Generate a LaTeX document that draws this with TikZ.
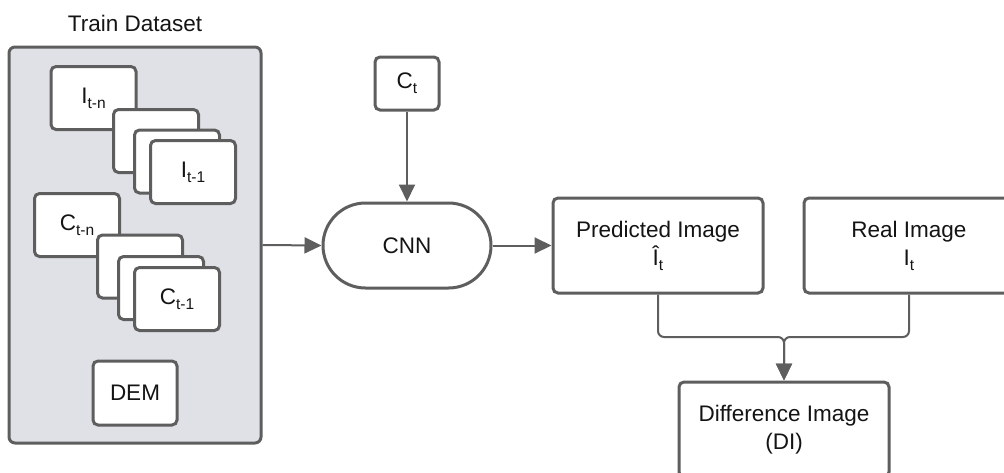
\documentclass[tikz,border=0pt]{standalone}
\usepackage{fontspec}
\setmainfont{Liberation Sans}
\usetikzlibrary{arrows.meta,shapes.misc}

\definecolor{edge}{RGB}{94,94,94}
\definecolor{panel}{RGB}{223,225,230}
\definecolor{ink}{RGB}{20,20,20}

% lowered, smaller index text
\newcommand\idx[1]{\raisebox{-5pt}{\fontsize{15.5}{15.5}\selectfont #1}}

\begin{document}
\begin{tikzpicture}[x=1pt,y=-1pt,
  every node/.style={font=\fontsize{22.5}{28}\selectfont, text=ink},
  card/.style={draw=edge, fill=white, line width=3pt, rounded corners=5pt,
               inner sep=0pt, align=center, minimum width=85pt, minimum height=63pt},
  wire/.style={draw=edge, line width=2pt},
  flow/.style={wire, -{Triangle[length=17pt,width=16pt]}},
]
\useasboundingbox (0,0) rectangle (1004,472);
\clip (0,0) rectangle (1004,472);

% training data panel
\node[anchor=base] (title) at (135,31) {Train Dataset};
\node[draw=edge, fill=panel, line width=3pt, rounded corners=6pt,
      minimum width=252pt, minimum height=396pt] (train) at (135,245) {};

% stack of past images
\node[card] (in) at (93.5,98) {I\idx{t-n}};
\node[card] (i2) at (156,141) {};
\node[card] (i3) at (177,161.5) {};
\node[card] (i1) at (193,172) {I\idx{t-1}};

% stack of past conditions
\node[card] (cn) at (77,225) {C\idx{t-n}};
\node[card] (c2) at (140,266.5) {};
\node[card] (c3) at (161,288) {};
\node[card] (c1) at (177,299) {C\idx{t-1}};

% elevation model
\node[card, minimum height=64pt, minimum width=84pt] (dem) at (135,393) {DEM};

% current condition and network
\node[card, minimum width=64pt, minimum height=53pt] (ct) at (407,83.5) {C\idx{t}};
\node[draw=edge, fill=white, line width=3pt, rounded rectangle,
      minimum width=168pt, minimum height=85pt, inner sep=0pt] (cnn) at (407,245.5) {CNN};

% outputs
\node[card, minimum width=210pt, minimum height=95pt] (pred) at (658,245.5)
  {Predicted Image\\Î\idx{t}};
\node[card, minimum width=210pt, minimum height=95pt] (real) at (909,245.5)
  {Real Image\\I\idx{t}};
\node[card, minimum width=210pt, minimum height=95pt] (di) at (784,429.5)
  {Difference Image\\(DI)};

% connectors
\coordinate (j) at (784,337);
\draw[flow] (train.east) -- (cnn.west);
\draw[flow] (ct.south) -- (cnn.north);
\draw[flow] (cnn.east) -- (pred.west);
\draw[flow, rounded corners=6pt] (pred.south) |- (j) -- (di.north);
\draw[flow, rounded corners=6pt] (real.south) |- (j) -- (di.north);
\end{tikzpicture}
\end{document}
